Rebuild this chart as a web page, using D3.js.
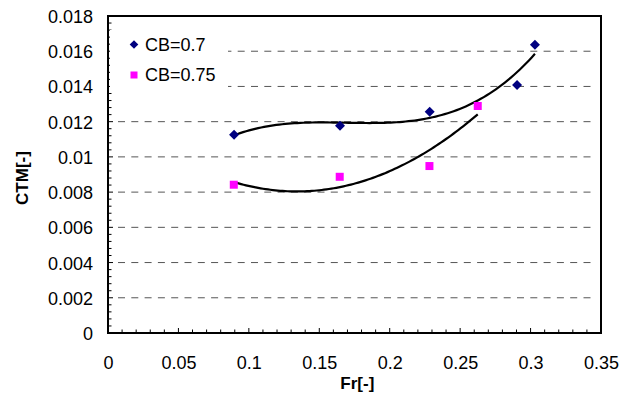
<!DOCTYPE html>
<html><head><meta charset="utf-8">
<script src="https://cdn.jsdelivr.net/npm/d3@7"></script>
<style>body{margin:0;background:#fff}svg{display:block}text{font-family:"Liberation Sans",Arial,sans-serif;fill:#000}</style>
</head><body><svg id="c" width="630" height="398"></svg>
<script>
const frCB70 = [0.0895, 0.1647, 0.2284, 0.2904, 0.3031];
const ctmCB70 = [0.01126, 0.01177, 0.01257, 0.01408, 0.01637];
const frCB75 = [0.0893, 0.1645, 0.2282, 0.2625];
const ctmCB75 = [0.00842, 0.00887, 0.00948, 0.01289];
const seriesNames = ["CB=0.7", "CB=0.75"];
const xTicks = [0, 0.05, 0.1, 0.15, 0.2, 0.25, 0.3, 0.35];
const yTicks = [0, 0.002, 0.004, 0.006, 0.008, 0.01, 0.012, 0.014, 0.016, 0.018];

const svg = d3.select("#c");
const L = 108, T = 16, W = 493, H = 317;
const x = d3.scaleLinear().domain([0, 0.35]).range([L, L + W]);
const y = d3.scaleLinear().domain([0, 0.018]).range([T + H, T]);

// polynomial least-squares trendline (Excel style)
function polyfit(xs, ys, n) {
  const m = n + 1, A = [], b = [];
  for (let i = 0; i < m; i++) { A.push(new Array(m).fill(0)); b.push(0); }
  xs.forEach((xv, k) => {
    for (let i = 0; i < m; i++) {
      b[i] += ys[k] * Math.pow(xv, i);
      for (let j = 0; j < m; j++) A[i][j] += Math.pow(xv, i + j);
    }
  });
  for (let i = 0; i < m; i++) {
    let p = i; for (let r = i + 1; r < m; r++) if (Math.abs(A[r][i]) > Math.abs(A[p][i])) p = r;
    [A[i], A[p]] = [A[p], A[i]]; [b[i], b[p]] = [b[p], b[i]];
    for (let r = 0; r < m; r++) if (r !== i) {
      const f = A[r][i] / A[i][i];
      for (let c = i; c < m; c++) A[r][c] -= f * A[i][c];
      b[r] -= f * b[i];
    }
  }
  return b.map((v, i) => v / A[i][i]);
}
function trend(xs, ys, n) {
  const c = polyfit(xs, ys, n);
  const lo = d3.min(xs), hi = d3.max(xs);
  return d3.range(0, 101).map(i => {
    const xv = lo + (hi - lo) * i / 100;
    return [xv, c.reduce((s, ci, k) => s + ci * Math.pow(xv, k), 0)];
  });
}

// gridlines
svg.append("g").selectAll("line").data(yTicks.filter(v => v > 0 && v < 0.018)).join("line")
  .attr("x1", L + 10).attr("x2", L + W - 7)
  .attr("y1", d => y(d)).attr("y2", d => y(d))
  .attr("stroke", "#555").attr("stroke-width", 1).attr("stroke-dasharray", "7,6.3");

// frame
svg.append("rect").attr("x", L).attr("y", T).attr("width", W).attr("height", H)
  .attr("fill", "none").attr("stroke", "#000").attr("stroke-width", 2);

// axes
const fs = 18;
const xAxis = d3.axisBottom(x).tickValues(xTicks).tickFormat(d => d3.format("")(+d.toFixed(2))).tickSize(0).tickPadding(0);
const gx = svg.append("g").attr("transform", `translate(0,${T + H})`).call(xAxis);
gx.select(".domain").remove();
gx.selectAll("text").attr("font-size", fs).attr("dy", null).attr("y", 36).attr("fill", "#000");

const yAxis = d3.axisLeft(y).tickValues(yTicks).tickFormat(d => d3.format("")(+d.toFixed(3))).tickSize(0).tickPadding(0);
const gy = svg.append("g").attr("transform", `translate(${L - 15},0)`).call(yAxis);
gy.select(".domain").remove();
gy.selectAll("text").attr("font-size", fs).attr("dy", "0.36em").attr("x", 0).attr("fill", "#000");

// inward tick marks (minor + major)
const xMinor = d3.range(0, 36).map(i => i / 100);
svg.append("g").selectAll("line").data(xMinor).join("line")
  .attr("x1", d => x(d)).attr("x2", d => x(d))
  .attr("y1", T + H).attr("y2", (d, i) => T + H - (i % 5 === 0 ? 5 : 3.5))
  .attr("stroke", "#000").attr("stroke-width", 1);
const yMinor = d3.range(0, 46).map(i => i * 0.0004);
svg.append("g").selectAll("line").data(yMinor).join("line")
  .attr("y1", d => y(d)).attr("y2", d => y(d))
  .attr("x1", L).attr("x2", (d, i) => L + (i % 5 === 0 ? 5 : 3.5))
  .attr("stroke", "#000").attr("stroke-width", 1);

// axis titles
svg.append("text").attr("x", x(0.177)).attr("y", 389).attr("text-anchor", "middle")
  .attr("font-size", 17).attr("font-weight", "bold").text("Fr[-]");
svg.append("text").attr("transform", `translate(28,${y(0.0088)}) rotate(-90)`).attr("text-anchor", "middle")
  .attr("font-size", 17).attr("font-weight", "bold").text("CTM[-]");

// legend background
svg.append("rect").attr("x", L + 2).attr("y", 30).attr("width", 118).attr("height", 60).attr("fill", "#fff");

// trendlines
const line = d3.line().x(d => x(d[0])).y(d => y(d[1]));
svg.append("path").datum(trend(frCB70, ctmCB70, 3)).attr("d", line)
  .attr("fill", "none").attr("stroke", "#000").attr("stroke-width", 2.2);
svg.append("path").datum(trend(frCB75, ctmCB75, 2)).attr("d", line)
  .attr("fill", "none").attr("stroke", "#000").attr("stroke-width", 2.2);

// markers
const dia = r => `M0,${-r}L${r},0L0,${r}L${-r},0Z`;
svg.append("g").selectAll("path").data(frCB70.map((v, i) => [v, ctmCB70[i]])).join("path")
  .attr("d", dia(5)).attr("transform", d => `translate(${x(d[0])},${y(d[1])})`)
  .attr("fill", "#000080");
svg.append("g").selectAll("rect").data(frCB75.map((v, i) => [v, ctmCB75[i]])).join("rect")
  .attr("x", d => x(d[0]) - 4).attr("y", d => y(d[1]) - 4).attr("width", 8).attr("height", 8)
  .attr("fill", "#ff00ff");

// legend
svg.append("path").attr("d", dia(4.3)).attr("transform", "translate(134,44.5)").attr("fill", "#000080");
svg.append("rect").attr("x", 130.5).attr("y", 71.5).attr("width", 7).attr("height", 7).attr("fill", "#ff00ff");
svg.append("text").attr("x", 145).attr("y", 50.5).attr("font-size", fs).text(seriesNames[0]);
svg.append("text").attr("x", 145).attr("y", 80.5).attr("font-size", fs).text(seriesNames[1]);
</script></body></html>
